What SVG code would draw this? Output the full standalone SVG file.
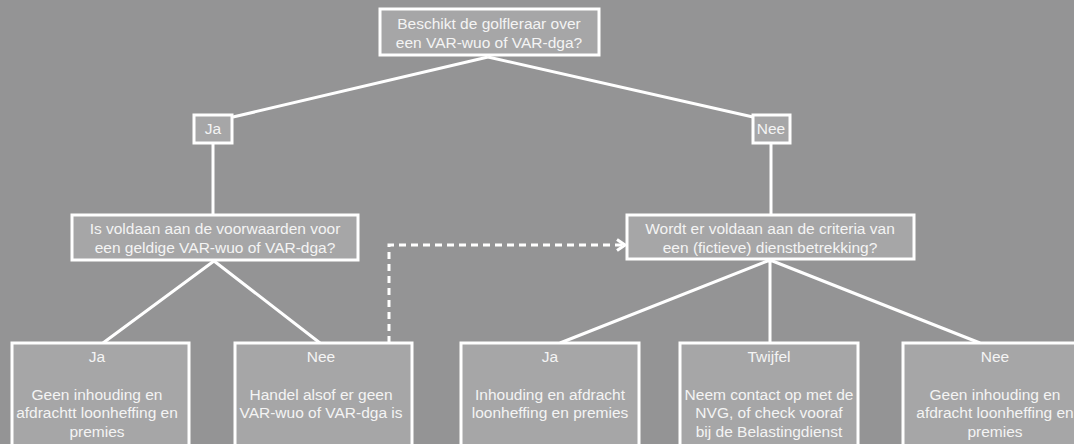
<svg xmlns="http://www.w3.org/2000/svg" width="1074" height="444" viewBox="0 0 1074 444">
<defs>
<style>
.box{fill:#a6a6a7;stroke:#ffffff;stroke-width:3}
.t{font-family:"Liberation Sans",Arial,sans-serif;font-size:15.5px;fill:#f4f4f4;text-anchor:middle}
.ln{stroke:#ffffff;stroke-width:3;fill:none}
.dash{stroke:#ffffff;stroke-width:3;fill:none;stroke-dasharray:7 5}
</style>
<marker id="chev" viewBox="0 0 12 14" refX="10" refY="7" markerWidth="4" markerHeight="4.7" markerUnits="strokeWidth" orient="auto">
<path d="M2,1.5 L10,7 L2,12.5" fill="none" stroke="#ffffff" stroke-width="3"/>
</marker>
</defs>
<rect width="1074" height="444" fill="#949495"/>
<g id="connectors">
<path class="ln" d="M488,57 L233,117 M488,57 L753,117"/>
<path class="ln" d="M213,143 L213,215"/>
<path class="ln" d="M771,143 L771,215"/>
<path class="ln" d="M214,261 L103,343 M214,261 L320,343"/>
<path class="ln" d="M770,260 L560,343 M770,260 L770,343 M770,260 L980,343"/>
<path class="dash" d="M389,343 L389,245 L625,245" marker-end="url(#chev)"/>
</g>
<g id="n-top">
<rect class="box" x="380" y="9" width="219" height="46"/>
<text class="t" x="489" y="29">Beschikt de golfleraar over</text>
<text class="t" x="489" y="48">een VAR-wuo of VAR-dga?</text>
</g>
<g id="n-ja1">
<rect class="box" x="194" y="115" width="38" height="28"/>
<text class="t" x="213" y="134">Ja</text>
</g>
<g id="n-nee1">
<rect class="box" x="753" y="115" width="37" height="28"/>
<text class="t" x="771" y="134">Nee</text>
</g>
<g id="n-q-left">
<rect class="box" x="72" y="215" width="286" height="45"/>
<text class="t" x="215" y="234">Is voldaan aan de voorwaarden voor</text>
<text class="t" x="215" y="253">een geldige VAR-wuo of VAR-dga?</text>
</g>
<g id="n-q-right">
<rect class="box" x="627" y="215" width="287" height="44"/>
<text class="t" x="770" y="234">Wordt er voldaan aan de criteria van</text>
<text class="t" x="770" y="253">een (fictieve) dienstbetrekking?</text>
</g>
<g id="n-b1">
<rect class="box" x="12" y="343" width="177" height="112"/>
<text class="t" x="97" y="362">Ja</text>
<text class="t" x="97" y="400">Geen inhouding en</text>
<text class="t" x="97" y="418">afdrachtt loonheffing en</text>
<text class="t" x="97" y="437">premies</text>
</g>
<g id="n-b2">
<rect class="box" x="235" y="343" width="177" height="112"/>
<text class="t" x="321" y="362">Nee</text>
<text class="t" x="321" y="400">Handel alsof er geen</text>
<text class="t" x="321" y="418">VAR-wuo of VAR-dga is</text>
</g>
<g id="n-b3">
<rect class="box" x="461" y="343" width="178" height="112"/>
<text class="t" x="550" y="362">Ja</text>
<text class="t" x="550" y="400">Inhouding en afdracht</text>
<text class="t" x="550" y="418">loonheffing en premies</text>
</g>
<g id="n-b4">
<rect class="box" x="680" y="343" width="178" height="112"/>
<text class="t" x="769" y="362">Twijfel</text>
<text class="t" x="769" y="400">Neem contact op met de</text>
<text class="t" x="769" y="418">NVG, of check vooraf</text>
<text class="t" x="769" y="437">bij de Belastingdienst</text>
</g>
<g id="n-b5">
<rect class="box" x="903" y="343" width="180" height="112"/>
<text class="t" x="995" y="362">Nee</text>
<text class="t" x="995" y="400">Geen inhouding en</text>
<text class="t" x="995" y="418">afdracht loonheffing en</text>
<text class="t" x="995" y="437">premies</text>
</g>
</svg>
